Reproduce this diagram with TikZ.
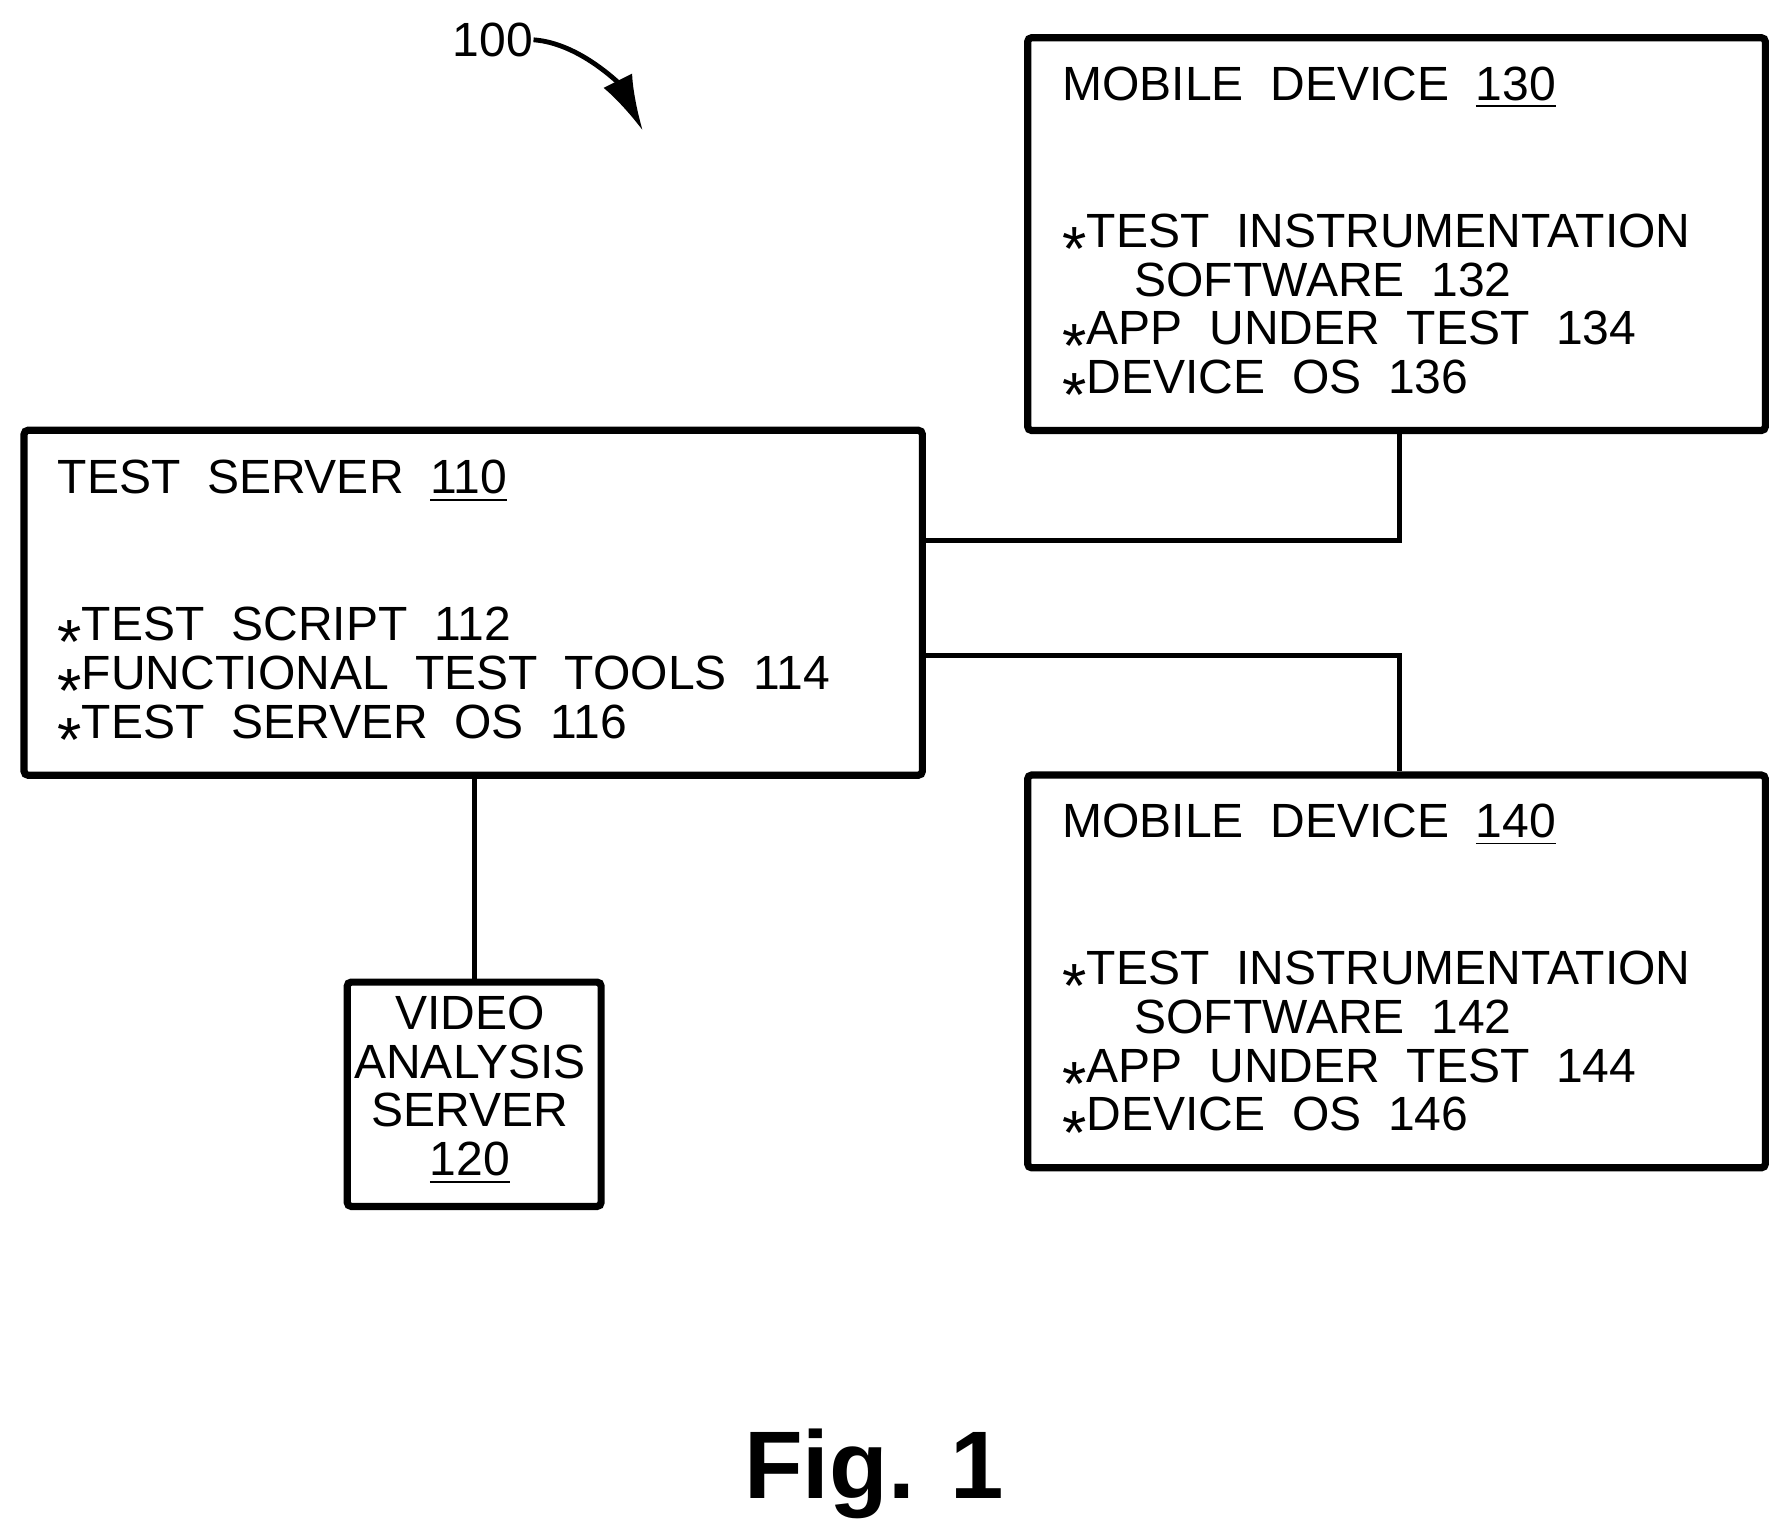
\documentclass[tikz,border=0pt]{standalone}
\usepackage{fontspec}
\setmainfont{Liberation Sans}
\usetikzlibrary{arrows.meta}
\begin{document}
\begin{tikzpicture}[x=0.01cm,y=-0.01cm,
 box/.style={draw,line width=1.8pt,rounded corners=1pt,inner sep=0},
 txt/.style={anchor=base west,inner sep=0,font=\fontsize{12}{12.2pt}\selectfont,align=left},
 ln/.style={line width=1.2pt}]
\useasboundingbox (0,0) rectangle (1560,1346);
\node[box,minimum width=6.48cm,minimum height=3.45cm,anchor=north west] (m130) at (900,30) {};
\node[box,minimum width=7.89cm,minimum height=3.03cm,anchor=north west] (ts) at (18,375) {};
\node[box,minimum width=6.48cm,minimum height=3.45cm,anchor=north west] (m140) at (900,678) {};
\node[box,minimum width=2.23cm,minimum height=1.97cm,anchor=north west] (vas) at (302,860) {};
\node[txt] (t130) at (933,88) {MOBILE\ \ DEVICE\ \ \underline{130}};
\node[txt] (l130) at (933,346) {\textasteriskcentered TEST\ \ INSTRUMENTATION\\\hspace*{1.5em}SOFTWARE\ \ 132\\\textasteriskcentered APP\ \ UNDER\ \ TEST\ \ 134\\\textasteriskcentered DEVICE\ \ OS\ \ 136};
\node[txt] (t140) at (933,736) {MOBILE\ \ DEVICE\ \ \underline{140}};
\node[txt] (l140) at (933,994) {\textasteriskcentered TEST\ \ INSTRUMENTATION\\\hspace*{1.5em}SOFTWARE\ \ 142\\\textasteriskcentered APP\ \ UNDER\ \ TEST\ \ 144\\\textasteriskcentered DEVICE\ \ OS\ \ 146};
\node[txt] (tts) at (50,434) {TEST\ \ SERVER\ \ \underline{110}};
\node[txt] (lts) at (50,649) {\textasteriskcentered TEST\ \ SCRIPT\ \ 112\\\textasteriskcentered FUNCTIONAL\ \ TEST\ \ TOOLS\ \ 114\\\textasteriskcentered TEST\ \ SERVER\ \ OS\ \ 116};
\node[inner sep=0,align=center,font=\fontsize{12}{12.2pt}\selectfont] (tv) at (413,958) {VIDEO\\ANALYSIS\\SERVER\\\underline{120}};
\coordinate (c1) at (1230,475);
\coordinate (c2) at (1230,576);
\draw[ln] (ts.east |- c1) -- (c1) -- (m130.south -| c1);
\draw[ln] (ts.east |- c2) -- (c2) -- (m140.north -| c2);
\draw[ln] (ts.south -| vas.north) -- (vas.north);
\node[inner sep=0,font=\fontsize{12}{14}\selectfont] (n100) at (433,35) {100};
\draw[line width=1.2pt,-{Latex[length=14pt,width=8pt]}] (n100.east) .. controls (510,38) and (545,75) .. (565,115);
\node[inner sep=0,font=\bfseries\fontsize{24}{28}\selectfont] (fig) at (768,1295) {Fig. 1};
\end{tikzpicture}
\end{document}
